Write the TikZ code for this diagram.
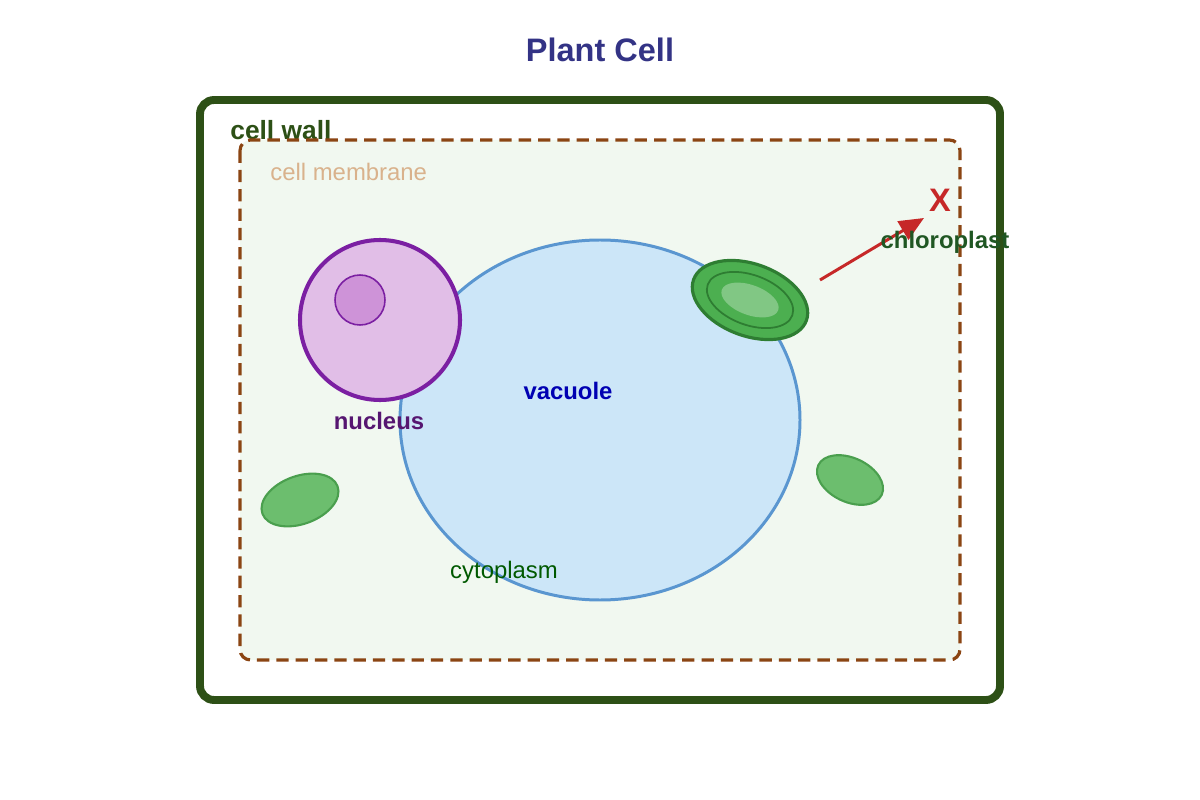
\documentclass[tikz,border=0pt]{standalone}
\usepackage{fontspec}
\setmainfont{Liberation Sans}
\usetikzlibrary{arrows.meta,positioning}
\definecolor{wallgreen}{HTML}{2D5016}
\definecolor{membrown}{HTML}{8B4513}
\definecolor{cytofill}{HTML}{F1F8F0}
\definecolor{vacfill}{HTML}{CCE6F8}
\definecolor{vacline}{HTML}{5A96D0}
\definecolor{nucfill}{HTML}{E1BEE7}
\definecolor{nucline}{HTML}{7B1FA2}
\definecolor{nucleofill}{HTML}{CE93D8}
\definecolor{chlgreen}{HTML}{4CAF50}
\definecolor{chlline}{HTML}{2E7D32}
\definecolor{chllight}{HTML}{81C784}
\definecolor{smallchl}{HTML}{6CBE6E}
\definecolor{smallline}{HTML}{4A9F4E}
\definecolor{marker}{HTML}{C62828}
\tikzset{
  lbl/.style={font=\fontsize{13.6}{16}\selectfont, inner sep=0pt},
  blbl/.style={lbl, font=\fontsize{13.6}{16}\selectfont\bfseries},
  smallplast/.style={fill=smallchl, draw=smallline, line width=1.2pt}
}
\begin{document}
\begin{tikzpicture}[x=0.02cm, y=-0.02cm]
  \useasboundingbox (0,0) rectangle (1200,800);
  % title
  \node[blbl, font=\fontsize{18.5}{22}\selectfont\bfseries, text=blue!40!black!80] (title) at (600,50) {Plant Cell};
  % wall and membrane
  \draw[wallgreen, line width=4.5pt, fill=white, rounded corners=8pt] (200,100) rectangle (1000,700);
  \node[blbl, font=\fontsize{15}{18}\selectfont\bfseries, text=wallgreen, anchor=west] (wall) at (230,130) {cell wall};
  \draw[membrown, line width=1.8pt, dash pattern=on 7pt off 4pt, fill=cytofill, rounded corners=6pt] (240,140) rectangle (960,660);
  \node[lbl, text=brown!60!white, anchor=west] (membrane) at (270,172) {cell membrane};
  % vacuole
  \draw[vacline, line width=1.7pt, fill=vacfill] (600,420) ellipse [x radius=200, y radius=180];
  \node[blbl, text=blue!70!black] (vacuole) at (568,391) {vacuole};
  % nucleus
  \draw[nucline, line width=2.3pt, fill=nucfill] (380,320) circle [radius=80];
  \draw[nucline, line width=0.9pt, fill=nucleofill] (360,300) circle [radius=25];
  \node[blbl, text=nucline!70!black] (nucleus) at (379,421) {nucleus};
  % chloroplasts
  \draw[chlline, line width=1.8pt, fill=chlgreen, rotate around={-20:(750,300)}] (750,300) ellipse [x radius=60, y radius=36];
  \draw[chlline, line width=1pt, rotate around={-20:(750,300)}] (750,300) ellipse [x radius=45, y radius=25];
  \fill[chllight, rotate around={-20:(750,300)}] (750,300) ellipse [x radius=30, y radius=15];
  \draw[smallplast, rotate around={20:(300,500)}] (300,500) ellipse [x radius=40, y radius=24];
  \draw[smallplast, rotate around={-25:(850,480)}] (850,480) ellipse [x radius=35, y radius=22];
  % marker
  \coordinate (tail) at (820,280);
  \coordinate (tip) at (924,218);
  \draw[marker, line width=1.7pt, -{Triangle[length=14pt, width=12pt]}] (tail) -- (tip);
  \node[blbl, font=\fontsize{18.5}{22}\selectfont\bfseries, text=marker] (x) at (940,200) {X};
  \node[blbl, text=chlline!70!black] (chloroplast) at (945,242) {chloroplast};
  \node[lbl, text=green!35!black] (cytoplasm) at (504,572) {cytoplasm};
\end{tikzpicture}
\end{document}
